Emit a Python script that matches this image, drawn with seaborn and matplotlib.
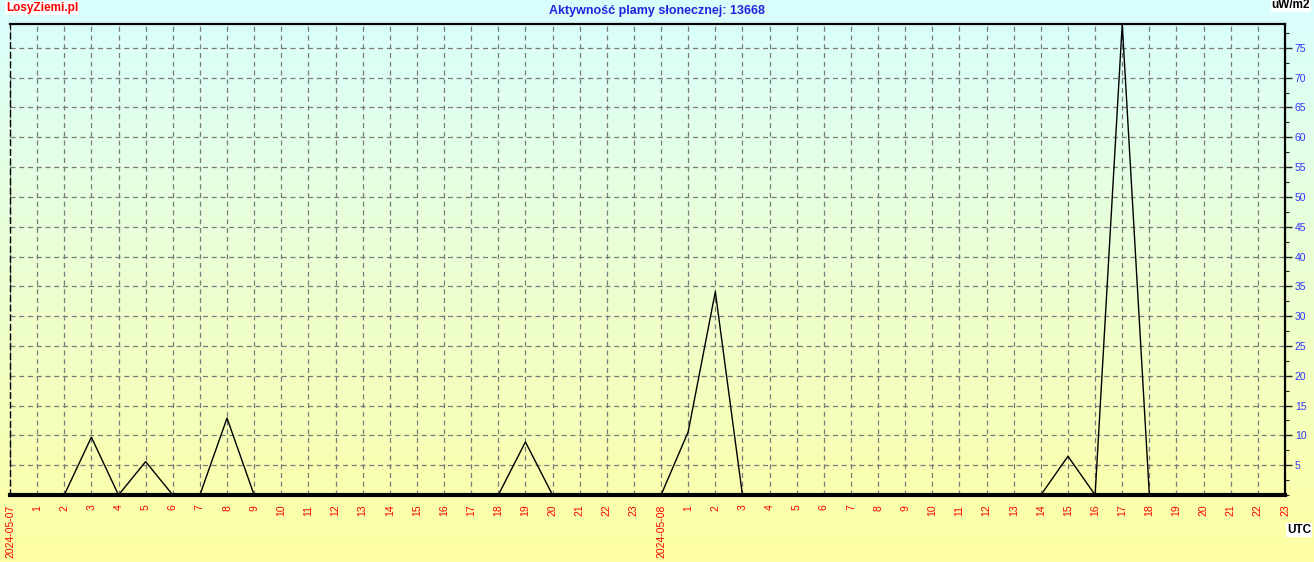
import numpy as np
import pandas as pd
import matplotlib
matplotlib.use("Agg")
import matplotlib.pyplot as plt
import seaborn as sns
from matplotlib.ticker import MultipleLocator, FixedLocator

####Data########################################################################
hours = list(range(48))
flux = [0, 0, 0, 9.7, 0, 5.6, 0, 0, 12.9, 0, 0, 0,
        0, 0, 0, 0, 0, 0, 0, 8.9, 0, 0, 0, 0,
        0, 10.6, 34.1, 0, 0, 0, 0, 0, 0, 0, 0, 0,
        0, 0, 0, 6.5, 0, 79.0, 0, 0, 0, 0, 0, 0]
tick_labels = ["2024-05-07"] + [str(h) for h in range(1, 24)] + \
              ["2024-05-08"] + [str(h) for h in range(1, 24)]
y_ticks = [5, 10, 15, 20, 25, 30, 35, 40, 45, 50, 55, 60, 65, 70, 75]

df = pd.DataFrame({"hour": hours, "flux": flux})

####Figure######################################################################
sns.set_style("white")
plt.rcParams['font.family'] = ['Liberation Sans', 'DejaVu Sans']

fig = plt.figure(figsize=(13.14, 5.62), dpi=100)

# gradient background over whole figure
bg = fig.add_axes([0, 0, 1, 1], zorder=-10)
top_c = np.array([0.85, 1.0, 1.0])
bot_c = np.array([1.0, 1.0, 0.64])
t = np.linspace(0, 1, 256)[:, None]
grad = (top_c * (1 - t) + bot_c * t)[:, None, :]
bg.imshow(grad, aspect="auto", extent=[0, 1, 0, 1])
bg.axis("off")

ax = fig.add_axes([10 / 1314, 1 - 495 / 562, 1275 / 1314, 471 / 562])
ax.patch.set_alpha(0)

sns.lineplot(data=df, x="hour", y="flux", color="black", linewidth=1, ax=ax)

ax.set_xlim(0, 47)
ax.set_ylim(0, 79)

ax.xaxis.set_major_locator(FixedLocator(hours))
ax.set_xticklabels(tick_labels, rotation=90, color="red", fontsize=7.5)
ax.xaxis.set_minor_locator(MultipleLocator(1 / 6))

ax.yaxis.tick_right()
ax.set_yticks(y_ticks)
ax.set_yticklabels([str(v) for v in y_ticks], color="#3333ff", fontsize=7.5)
ax.yaxis.set_minor_locator(MultipleLocator(2.5))

ax.tick_params(axis="x", which="major", direction="out", length=5, width=1, pad=2)
ax.tick_params(axis="x", which="minor", direction="out", length=3, width=0.8)
ax.tick_params(axis="y", which="major", direction="out", length=5, width=1, pad=2)
ax.tick_params(axis="y", which="minor", direction="out", length=3, width=0.8)

ax.grid(True, which="major", color="#7a7a7a", linestyle=(0, (4, 3)), linewidth=0.9)

ax.set_xlabel("")
ax.set_ylabel("")

for side in ["top", "right"]:
    ax.spines[side].set_color("black")
    ax.spines[side].set_linewidth(1.6)
ax.spines["bottom"].set_linewidth(3)
ax.spines["bottom"].set_color("black")
ax.spines["left"].set_color("black")
ax.spines["left"].set_linewidth(1)
ax.spines["left"].set_linestyle((0, (4, 3)))

####Text########################################################################
fig.text(657 / 1314, 1 - 11 / 562, "Aktywność plamy słonecznej: 13668", ha="center",
         va="center", color="#2222dd", fontsize=9, fontweight="bold")
fig.text(6 / 1314, 1 - 8 / 562, "LosyZiemi.pl", ha="left", va="center",
         color="red", fontsize=8.5, fontweight="bold",
         bbox=dict(facecolor="white", edgecolor="none", pad=0.5))
fig.text(1310 / 1314, 1 - 5 / 562, "uW/m2", ha="right", va="center",
         color="black", fontsize=8.5, fontweight="bold",
         bbox=dict(facecolor="white", edgecolor="none", pad=0.5))
fig.text(1311 / 1314, 1 - 530 / 562, "UTC", ha="right", va="center",
         color="black", fontsize=8.5, fontweight="bold",
         bbox=dict(facecolor="white", edgecolor="none", pad=0.5))

fig.savefig("out.png", dpi=100)
